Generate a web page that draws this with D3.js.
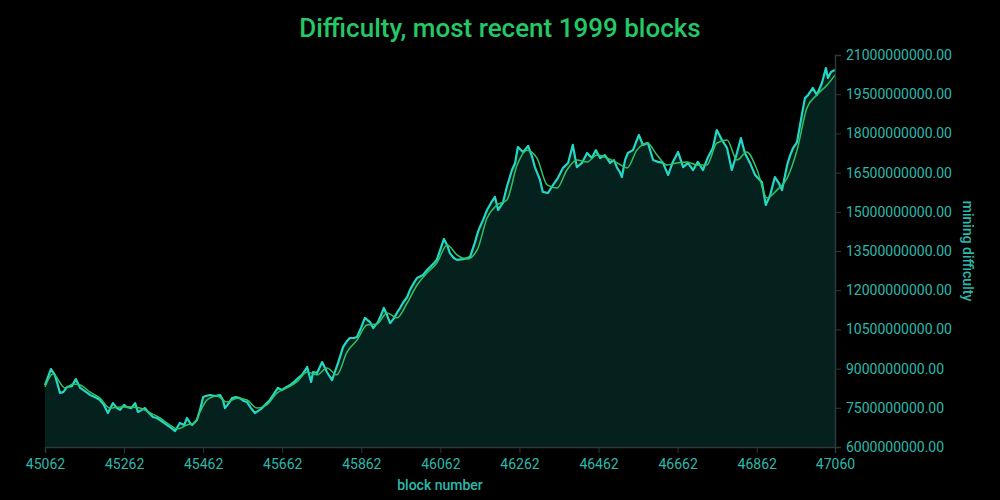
<!DOCTYPE html>
<html>
<head>
<meta charset="utf-8">
<script src="https://cdn.jsdelivr.net/npm/d3@7"></script>
<style>
  html, body { margin: 0; padding: 0; background: #000; }
  svg { display: block; }
  text { font-family: Roboto, "Noto Sans", sans-serif; }
</style>
</head>
<body>
<svg id="chart" width="1000" height="500"></svg>
<script>
// ---- data ----
const blocks = [45062,45077,45087,45100,45108,45118,45130,45140,45151,45163,45176,45188,45201,45211,45221,45234,45244,45252,45262,45269,45280,45290,45297,45307,45315,45325,45335,45345,45353,45363,45371,45381,45391,45403,45414,45421,45429,45434,45446,45454,45462,45469,45479,45492,45505,45512,45517,45527,45535,45545,45555,45565,45573,45583,45593,45601,45611,45621,45631,45641,45651,45661,45669,45682,45692,45702,45712,45725,45735,45740,45750,45763,45775,45788,45795,45803,45816,45826,45833,45843,45851,45861,45871,45884,45892,45904,45912,45919,45927,45935,45945,45952,45960,45967,45978,45985,45995,46003,46018,46028,46036,46046,46053,46063,46071,46079,46086,46096,46104,46119,46129,46137,46149,46157,46162,46170,46180,46190,46200,46208,46220,46230,46243,46251,46258,46271,46284,46294,46301,46314,46321,46334,46347,46359,46372,46385,46397,46407,46420,46433,46445,46455,46466,46478,46491,46501,46509,46516,46521,46529,46536,46549,46564,46574,46587,46600,46612,46625,46638,46650,46663,46676,46688,46701,46713,46726,46739,46751,46761,46774,46787,46799,46812,46822,46832,46845,46858,46865,46875,46885,46896,46908,46918,46926,46939,46946,46954,46964,46976,46984,46992,47004,47014,47027,47037,47042,47050,47060];
// difficulty, in billions
const difficultyBn = [8.37,8.98,8.76,8.07,8.10,8.30,8.33,8.60,8.26,8.14,7.99,7.91,7.80,7.61,7.30,7.68,7.49,7.42,7.61,7.53,7.49,7.68,7.34,7.42,7.49,7.30,7.15,7.11,7.03,6.92,6.84,6.73,6.61,6.92,6.84,7.11,6.92,6.84,7.03,7.42,7.91,7.95,7.99,7.95,7.99,7.80,7.49,7.68,7.87,7.91,7.87,7.76,7.72,7.49,7.30,7.38,7.49,7.65,7.80,8.03,8.26,8.18,8.26,8.37,8.49,8.64,8.76,9.06,8.49,8.87,8.83,9.25,8.87,8.56,8.87,9.21,9.83,10.06,10.17,10.17,10.21,10.55,10.94,10.78,10.55,10.78,11.05,11.32,11.05,10.74,10.94,11.13,11.32,11.51,11.74,12.01,12.28,12.47,12.58,12.77,12.89,13.04,13.16,13.61,13.96,13.73,13.42,13.23,13.16,13.19,13.23,13.27,13.81,14.23,14.42,14.69,15.07,15.34,15.57,15.07,15.34,15.95,16.60,16.87,17.48,17.29,17.52,17.10,16.71,16.22,15.76,15.72,16.03,16.29,16.68,16.87,17.56,16.71,16.87,17.25,17.06,17.36,17.06,17.17,16.87,16.98,16.68,16.52,16.33,16.98,17.25,17.36,17.94,17.56,17.63,16.98,16.91,16.87,16.41,16.91,17.29,16.71,16.87,16.60,16.91,16.60,17.10,17.44,18.13,17.75,17.44,16.60,17.25,17.82,17.25,16.87,16.41,16.29,16.14,15.26,15.64,16.33,16.10,15.83,16.79,17.14,17.44,17.67,18.70,19.35,19.47,19.74,19.47,19.93,20.50,20.12,20.35,20.43];
// moving-average line (green), read separately
const avgBlocks = [45062,45082,45113,45133,45151,45176,45201,45226,45252,45277,45302,45328,45353,45378,45396,45421,45441,45454,45472,45497,45522,45548,45573,45598,45623,45649,45674,45699,45725,45750,45775,45800,45826,45851,45876,45902,45927,45952,45978,46003,46028,46053,46079,46104,46129,46155,46180,46205,46230,46256,46281,46306,46332,46357,46382,46407,46433,46458,46483,46509,46534,46559,46585,46610,46635,46660,46686,46711,46736,46761,46787,46812,46837,46863,46888,46913,46939,46964,46989,47014,47040,47060];
const avgBn = [8.30,8.79,8.26,8.41,8.37,8.10,7.87,7.49,7.53,7.53,7.49,7.30,7.11,6.84,6.69,6.84,6.92,7.34,7.80,7.95,7.72,7.87,7.80,7.49,7.61,8.07,8.26,8.49,8.87,8.76,9.02,8.76,9.64,10.09,10.67,10.71,11.13,10.94,11.51,12.20,12.66,13.04,13.73,13.35,13.19,13.54,14.76,15.26,15.45,16.79,17.36,17.06,16.03,15.91,16.60,16.98,16.91,17.17,17.06,16.87,16.68,17.36,17.63,17.17,16.79,16.87,16.91,16.79,16.79,17.63,17.75,16.98,17.29,16.60,15.53,15.83,16.29,17.36,18.97,19.47,19.85,20.23];
const xTicks = [45062,45262,45462,45662,45862,46062,46262,46462,46662,46862,47060];
const yTicks = [6e9,7.5e9,9e9,10.5e9,12e9,13.5e9,15e9,16.5e9,18e9,19.5e9,21e9];
const titleText = "Difficulty, most recent 1999 blocks";
const xLabel = "block number";
const yLabel = "mining difficulty";

// ---- layout ----
const W = 1000, H = 500;
const m = { left: 45, right: 165, top: 55, bottom: 53 };
const svg = d3.select("#chart");
svg.append("rect").attr("width", W).attr("height", H).attr("fill", "#000");

const x = d3.scaleLinear().domain([45062, 47060]).range([m.left, W - m.right]);
const y = d3.scaleLinear().domain([6e9, 21e9]).range([H - m.bottom, m.top]);

const series = blocks.map((b, i) => ({ b, v: difficultyBn[i] * 1e9 }));
const avg = avgBlocks.map((b, i) => ({ b, v: avgBn[i] * 1e9 }));

const g = svg.append("g");

g.append("path")
  .datum(series)
  .attr("fill", "#04211e")
  .attr("d", d3.area().x(d => x(d.b)).y0(y(6e9)).y1(d => y(d.v)));

g.append("path")
  .datum(series)
  .attr("fill", "none")
  .attr("stroke", "#24d8c6")
  .attr("stroke-width", 2.2)
  .attr("stroke-linejoin", "round")
  .attr("d", d3.line().x(d => x(d.b)).y(d => y(d.v)));

g.append("path")
  .datum(avg)
  .attr("fill", "none")
  .attr("stroke", "#2fc463")
  .attr("stroke-width", 1.5)
  .attr("d", d3.line().curve(d3.curveMonotoneX).x(d => x(d.b)).y(d => y(d.v)));

// ---- axes ----
const tickColor = "#2bb9ab";
const axisColor = "#2c3a3a";

const xAxis = svg.append("g")
  .attr("transform", `translate(0,${H - m.bottom})`)
  .call(d3.axisBottom(x).tickValues(xTicks).tickFormat(d3.format("d")).tickSize(6).tickPadding(6));
const yAxis = svg.append("g")
  .attr("transform", `translate(${W - m.right},0)`)
  .call(d3.axisRight(y).tickValues(yTicks).tickFormat(d3.format(".2f")).tickSize(6).tickPadding(5));

[xAxis, yAxis].forEach(a => {
  a.selectAll("path.domain").attr("stroke", axisColor).attr("stroke-width", 1.5);
  a.selectAll(".tick line").attr("stroke", axisColor);
  a.selectAll(".tick text")
    .attr("fill", tickColor)
    .style("font-family", "Roboto, 'Noto Sans', sans-serif")
    .style("font-size", "14px");
});

// ---- titles ----
svg.append("text")
  .attr("x", 500).attr("y", 37)
  .attr("text-anchor", "middle")
  .attr("fill", "#25c866")
  .style("font-size", "26px")
  .style("font-weight", "500")
  .text(titleText);

svg.append("text")
  .attr("x", (m.left + W - m.right) / 2).attr("y", 490)
  .attr("text-anchor", "middle")
  .attr("fill", tickColor)
  .style("font-size", "14px")
  .style("font-weight", "500")
  .text(xLabel);

svg.append("text")
  .attr("transform", `translate(963,${(m.top + H - m.bottom) / 2}) rotate(90)`)
  .attr("text-anchor", "middle")
  .attr("fill", tickColor)
  .style("font-size", "14px")
  .style("font-weight", "500")
  .text(yLabel);
</script>
</body>
</html>
